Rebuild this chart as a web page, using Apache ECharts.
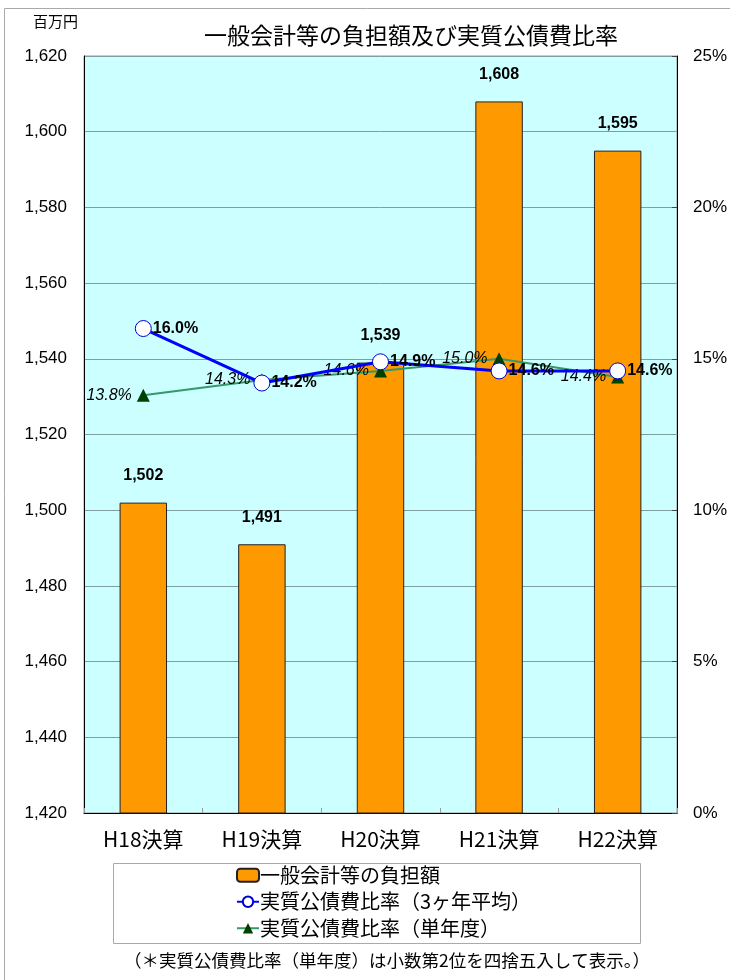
<!DOCTYPE html>
<html>
<head>
<meta charset="utf-8">
<script src="https://cdn.jsdelivr.net/npm/echarts@6/dist/echarts.min.js"></script>
<style>
html,body{margin:0;padding:0;background:#fff;}
#c{width:730px;height:980px;}
</style>
</head>
<body>
<div id="c"></div>
<script>
const categories = ['H18決算', 'H19決算', 'H20決算', 'H21決算', 'H22決算'];
const burden = [1502, 1491, 1539, 1608, 1595];
const ratio3yr = [16.0, 14.2, 14.9, 14.6, 14.6];
const ratioSingle = [13.8, 14.3, 14.6, 15.0, 14.4];
const seriesNames = ['一般会計等の負担額', '実質公債費比率（3ヶ年平均）', '実質公債費比率（単年度）'];
const titleText = '一般会計等の負担額及び実質公債費比率';
const unitText = '百万円';
const noteText = '（＊実質公債費比率（単年度）は小数第2位を四捨五入して表示。）';

const JP = '"Noto Sans CJK JP", "Noto Sans", sans-serif';
const NUM = '"Liberation Sans", Arial, sans-serif';

const chart = echarts.init(document.getElementById('c'), null, {renderer: 'canvas'});
chart.setOption({
  animation: false,
  backgroundColor: '#ffffff',
  title: {
    text: titleText,
    left: 199, top: 19,
    textStyle: {fontFamily: JP, fontSize: 23, fontWeight: 'normal', color: '#000'}
  },
  grid: {
    left: 84, right: 51, top: 56, bottom: 167,
    show: true, backgroundColor: '#CCFFFF', borderColor: '#999', borderWidth: 1
  },
  legend: {
    orient: 'vertical',
    left: 236, top: 865, padding: 0,
    itemWidth: 22, itemHeight: 13, itemGap: 6,
    textStyle: {fontFamily: JP, fontSize: 20, lineHeight: 20.5, color: '#000', padding: [0, 0, 0, -4]},
    data: seriesNames
  },
  xAxis: {
    type: 'category',
    data: categories,
    axisLine: {show: true, lineStyle: {color: '#000', width: 1}},
    axisTick: {show: true, inside: true, length: 5, lineStyle: {color: '#999'}},
    axisLabel: {fontFamily: JP, fontSize: 21, color: '#000', margin: 16}
  },
  yAxis: [{
    type: 'value', min: 1420, max: 1620, interval: 20,
    axisLine: {show: true, lineStyle: {color: '#000', width: 1}},
    axisTick: {show: false},
    splitLine: {show: true, lineStyle: {color: '#7f9f9f', width: 1}},
    axisLabel: {fontFamily: NUM, fontSize: 17, color: '#000', margin: 17,
      formatter: v => v.toLocaleString('en-US')}
  }, {
    type: 'value', min: 0, max: 25, interval: 5,
    axisLine: {show: true, lineStyle: {color: '#000', width: 1}},
    axisTick: {show: true, inside: true, length: 5, lineStyle: {color: '#444'}},
    splitLine: {show: false},
    axisLabel: {fontFamily: NUM, fontSize: 17, color: '#000', margin: 16, formatter: '{value}%'}
  }],
  series: [{
    name: seriesNames[0],
    type: 'bar',
    data: burden,
    barWidth: '40%',
    itemStyle: {color: '#FF9900', borderColor: '#222', borderWidth: 1},
    label: {show: true, position: 'top', distance: 19,
      fontFamily: NUM, fontSize: 16, fontWeight: 'bold', color: '#000',
      formatter: p => p.value.toLocaleString('en-US')},
    z: 2
  }, {
    name: seriesNames[1],
    type: 'line',
    yAxisIndex: 1,
    data: ratio3yr,
    symbol: 'circle', symbolSize: 16,
    lineStyle: {color: '#0000FF', width: 3},
    itemStyle: {color: '#FFFFFF', borderColor: '#0000CC', borderWidth: 1},
    label: {show: true, position: 'right', distance: 1,
      fontFamily: NUM, fontSize: 16, fontWeight: 'bold', color: '#000',
      formatter: p => p.value.toFixed(1) + '%'},
    z: 4
  }, {
    name: seriesNames[2],
    type: 'line',
    yAxisIndex: 1,
    data: ratioSingle,
    symbol: 'triangle', symbolSize: 13,
    lineStyle: {color: '#339966', width: 2},
    itemStyle: {color: '#004000', borderColor: '#004000', borderWidth: 0},
    label: {show: true, position: 'left', distance: 5,
      fontFamily: NUM, fontSize: 16, fontStyle: 'italic', color: '#000',
      formatter: p => p.value.toFixed(1) + '%'},
    z: 3
  }],
  graphic: [{
    type: 'rect', silent: true, z: -10,
    shape: {x: 4.5, y: 8.5, width: 800, height: 1000},
    style: {fill: null, stroke: '#aaa', lineWidth: 1}
  }, {
    type: 'text', left: 33, top: 14,
    style: {text: unitText, font: '15px ' + JP, fill: '#000'}
  }, {
    type: 'rect', silent: true, z: -5,
    shape: {x: 113.5, y: 863.5, width: 527, height: 80},
    style: {fill: '#fff', stroke: '#aaa', lineWidth: 1}
  }, {
    type: 'text', left: 124, top: 952,
    style: {text: noteText, font: '17.5px ' + JP, fill: '#000'}
  }]
});
</script>
</body>
</html>
